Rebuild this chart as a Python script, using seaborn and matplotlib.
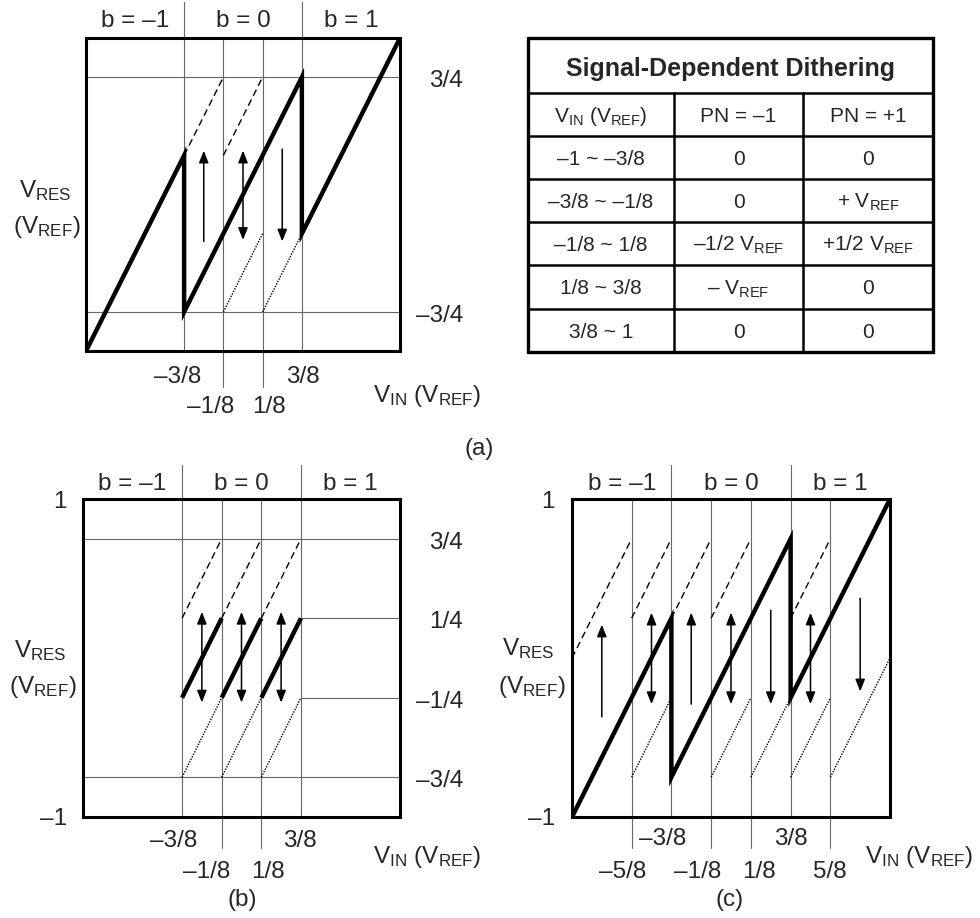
import numpy as np
import pandas as pd
import matplotlib
matplotlib.use("Agg")
import matplotlib.pyplot as plt
import seaborn as sns

sns.set_style("white")
plt.rcParams['font.family'] = ['Liberation Sans', 'DejaVu Sans']
plt.rcParams['mathtext.fontset'] = 'custom'
plt.rcParams['mathtext.rm'] = 'Liberation Sans'
plt.rcParams['mathtext.default'] = 'regular'

# ---- data -------------------------------------------------------------
# (a) residue transfer with signal-dependent dithering
a_curve_x = [-1, -3/8, -3/8, 3/8, 3/8, 1]
a_curve_y = [-1, 1/4, -3/4, 3/4, -1/4, 1]
a_dash_x = [[-3/8, -1/8], [-1/8, 1/8]]
a_dash_y = [[1/4, 3/4], [1/4, 3/4]]
a_dot_x = [[-1/8, 1/8], [1/8, 3/8]]
a_dot_y = [[-3/4, -1/4], [-3/4, -1/4]]
a_arrow_x = [-1/4, 0, 1/4]
a_arrow_lo = [-0.30, -0.29, -0.30]
a_arrow_hi = [0.28, 0.28, 0.29]
a_arrow_dir = ['up', 'both', 'down']

# (b) dithering confined to b = 0 region
b_seg_x = [[-3/8, -1/8], [-1/8, 1/8], [1/8, 3/8]]
b_seg_y = [[-1/4, 1/4], [-1/4, 1/4], [-1/4, 1/4]]
b_dash_x = [[-3/8, -1/8], [-1/8, 1/8], [1/8, 3/8]]
b_dash_y = [[1/4, 3/4], [1/4, 3/4], [1/4, 3/4]]
b_dot_x = [[-3/8, -1/8], [-1/8, 1/8], [1/8, 3/8]]
b_dot_y = [[-3/4, -1/4], [-3/4, -1/4], [-3/4, -1/4]]
b_arrow_x = [-1/4, 0, 1/4]
b_arrow_lo = [-0.28, -0.28, -0.28]
b_arrow_hi = [0.29, 0.29, 0.29]
b_arrow_dir = ['both', 'both', 'both']

# (c) dithering over the full range
c_curve_x = [-1, -3/8, -3/8, 3/8, 3/8, 1]
c_curve_y = [-1, 1/4, -3/4, 3/4, -1/4, 1]
c_dash_x = [[-1, -5/8], [-5/8, -3/8], [-3/8, -1/8], [-1/8, 1/8], [3/8, 5/8]]
c_dash_y = [[0, 3/4], [1/4, 3/4], [1/4, 3/4], [1/4, 3/4], [1/4, 3/4]]
c_dot_x = [[-5/8, -3/8], [-1/8, 1/8], [1/8, 3/8], [3/8, 5/8], [5/8, 1]]
c_dot_y = [[-3/4, -1/4], [-3/4, -1/4], [-3/4, -1/4], [-3/4, -1/4], [-3/4, 0]]
c_arrow_x = [-13/16, -1/2, -1/4, 0, 1/4, 1/2, 13/16]
c_arrow_lo = [-0.37, -0.29, -0.29, -0.29, -0.29, -0.29, -0.21]
c_arrow_hi = [0.21, 0.285, 0.285, 0.285, 0.30, 0.285, 0.375]
c_arrow_dir = ['up', 'both', 'up', 'both', 'down', 'both', 'down']

# table
tbl_title = "Signal-Dependent Dithering"
tbl_header = ["V$_{IN}$ (V$_{REF}$)", "PN = \u20131", "PN = +1"]
vin_ranges = ["\u20131 ~ \u20133/8", "\u20133/8 ~ \u20131/8", "\u20131/8 ~ 1/8", "1/8 ~ 3/8", "3/8 ~ 1"]
pn_minus = ["0", "0", "\u20131/2 V$_{REF}$", "\u2013 V$_{REF}$", "0"]
pn_plus = ["0", "+ V$_{REF}$", "+1/2 V$_{REF}$", "0", "0"]

# ---- figure -----------------------------------------------------------
W, H = 980, 918
fig = plt.figure(figsize=(W / 100, H / 100), dpi=100)
FS = 17.5
GRID = dict(color='#666666', lw=0.8, clip_on=False)


def seg_frame(xs, ys):
    rows = []
    for i, (sx, sy) in enumerate(zip(xs, ys)):
        for x, y in zip(sx, sy):
            rows.append((i, x, y))
    return pd.DataFrame(rows, columns=['seg', 'x', 'y'])


def draw_segs(ax, xs, ys, **kw):
    sns.lineplot(data=seg_frame(xs, ys), x='x', y='y', units='seg',
                 estimator=None, sort=False, ax=ax, color='k', **kw)


def draw_arrows(ax, xs, lo, hi, kinds):
    for x, y0, y1, k in zip(xs, lo, hi, kinds):
        if k == 'up':
            a, b, st = (x, y0), (x, y1), '-|>'
        elif k == 'down':
            a, b, st = (x, y1), (x, y0), '-|>'
        else:
            a, b, st = (x, y0), (x, y1), '<|-|>'
        ax.annotate('', xy=b, xytext=a,
                    arrowprops=dict(arrowstyle=st + ',head_length=0.6,head_width=0.24',
                                    color='k', lw=1.1, shrinkA=0, shrinkB=0,
                                    mutation_scale=12))


def panel(x0, y0, x1, y1):
    ax = fig.add_axes([x0 / W, 1 - y1 / H, (x1 - x0) / W, (y1 - y0) / H])
    return ax


def finish(ax):
    ax.set_xlim(-1, 1)
    ax.set_ylim(-1, 1)
    ax.set_xticks([])
    ax.set_yticks([])
    ax.set_xlabel('')
    ax.set_ylabel('')
    for s in ax.spines.values():
        s.set_linewidth(2.2)
        s.set_color('k')
        s.set_zorder(5)


def label_x(ax, xd, s, dx, dy):
    ax.annotate(s, xy=(xd, 0), xycoords=('data', 'axes fraction'),
                xytext=(dx, dy), textcoords='offset pixels',
                ha='center', va='baseline', fontsize=FS, annotation_clip=False)


def label_right(ax, yd, s):
    ax.annotate(s, xy=(1, yd), xycoords=('axes fraction', 'data'),
                xytext=(63, -10), textcoords='offset pixels',
                ha='right', va='baseline', fontsize=FS, annotation_clip=False)


def b_labels(ax, dy):
    for xc, s in zip([-11/16, 0, 11/16], ["b = \u20131", "b = 0", "b = 1"]):
        ax.annotate(s, xy=(xc, 1), xycoords=('data', 'axes fraction'),
                    xytext=(0, dy), textcoords='offset pixels',
                    ha='center', va='baseline', fontsize=FS, annotation_clip=False)


def ftext(x, y, s, **kw):
    fig.text(x / W, 1 - y / H, s, fontsize=FS, va='baseline', **kw)


# ---------------- (a) ----------------
axa = panel(86, 38, 400, 351)
for xv in [-3/8, 3/8]:
    axa.axvline(xv, 0, 1.115, **GRID)
for xv in [-1/8, 1/8]:
    axa.axvline(xv, -0.115, 1, **GRID)
for yv in [3/4, -3/4]:
    axa.axhline(yv, **GRID)
draw_segs(axa, a_dash_x, a_dash_y, lw=1.0, linestyle=(0, (5, 3)))
draw_segs(axa, a_dot_x, a_dot_y, lw=1.0, linestyle=(0, (1, 1)))
draw_segs(axa, [a_curve_x], [a_curve_y], lw=3.2, solid_joinstyle='miter')
draw_arrows(axa, a_arrow_x, a_arrow_lo, a_arrow_hi, a_arrow_dir)
finish(axa)
b_labels(axa, 11)
label_right(axa, 3/4, "3/4")
label_right(axa, -3/4, "\u20133/4")
label_x(axa, -3/8, "\u20133/8", -7, -32)
label_x(axa, 3/8, "3/8", 1, -32)
label_x(axa, -1/8, "\u20131/8", -13, -62)
label_x(axa, 1/8, "1/8", 6, -62)
ftext(45, 197, "V$_{RES}$", ha='center')
ftext(47, 233, "(V$_{REF}$)", ha='center')
ftext(373, 402, "V$_{IN}$ (V$_{REF}$)", ha='left')
ftext(479, 455, "(a)", ha='center')

# ---------------- table ----------------
axt = fig.add_axes([528 / W, 1 - 352 / H, 405 / W, 314 / H])
axt.set_xlim(528, 933)
axt.set_ylim(352, 38)
axt.axis('off')
row_edges = [38, 93, 136, 179, 222, 265, 309, 352]
col_edges = [528, 674, 803, 933]
for yv in row_edges[1:-1]:
    axt.plot([col_edges[0], col_edges[-1]], [yv, yv], color='k', lw=1.8)
for xv in col_edges[1:-1]:
    axt.plot([xv, xv], [row_edges[1], row_edges[-1]], color='k', lw=1.8)
axt.plot([528, 933, 933, 528, 528], [38, 38, 352, 352, 38], color='k', lw=2.4,
         clip_on=False, solid_joinstyle='miter')
axt.text(730, 76, tbl_title, ha='center', va='baseline', fontsize=18, fontweight='bold')
cols_c = [(col_edges[i] + col_edges[i + 1]) / 2 for i in range(3)]
table_rows = [tbl_header] + [list(r) for r in zip(vin_ranges, pn_minus, pn_plus)]
for i, row in enumerate(table_rows):
    yc = (row_edges[i + 1] + row_edges[i + 2]) / 2
    for xc, s in zip(cols_c, row):
        axt.text(xc, yc + 7.5, s, ha='center', va='baseline', fontsize=15)

# ---------------- (b) ----------------
axb = panel(83, 499, 400, 817)
for xv in [-3/8, 3/8]:
    axb.axvline(xv, 0, 1.107, **GRID)
for xv in [-1/8, 1/8]:
    axb.axvline(xv, -0.0975, 1, **GRID)
for yv in [3/4, -3/4]:
    axb.axhline(yv, **GRID)
for yv in [1/4, -1/4]:
    axb.axhline(yv, 11/16, 1, **GRID)
draw_segs(axb, b_dash_x, b_dash_y, lw=1.0, linestyle=(0, (5, 3)))
draw_segs(axb, b_dot_x, b_dot_y, lw=1.0, linestyle=(0, (1, 1)))
draw_segs(axb, b_seg_x, b_seg_y, lw=3.2, solid_capstyle='butt')
draw_arrows(axb, b_arrow_x, b_arrow_lo, b_arrow_hi, b_arrow_dir)
finish(axb)
b_labels(axb, 9)
for yv, s in zip([3/4, 1/4, -1/4, -3/4], ["3/4", "1/4", "\u20131/4", "\u20133/4"]):
    label_right(axb, yv, s)
axb.annotate("1", xy=(0, 1), xycoords='axes fraction', xytext=(-16, -9),
             textcoords='offset pixels', ha='right', va='baseline', fontsize=FS)
axb.annotate("\u20131", xy=(0, 0), xycoords='axes fraction', xytext=(-16, -8),
             textcoords='offset pixels', ha='right', va='baseline', fontsize=FS)
label_x(axb, -3/8, "\u20133/8", -8, -30)
label_x(axb, 3/8, "3/8", -1, -30)
label_x(axb, -1/8, "\u20131/8", -15, -61)
label_x(axb, 1/8, "1/8", 7, -61)
ftext(40, 657, "V$_{RES}$", ha='center')
ftext(43, 693, "(V$_{REF}$)", ha='center')
ftext(373, 863, "V$_{IN}$ (V$_{REF}$)", ha='left')
ftext(242, 906, "(b)", ha='center')

# ---------------- (c) ----------------
axc = panel(572, 499, 890, 817)
for xv in [-3/8, 3/8]:
    axc.axvline(xv, 0, 1.107, **GRID)
for xv in [-5/8, -1/8, 1/8, 5/8]:
    axc.axvline(xv, -0.0975, 1, **GRID)
draw_segs(axc, c_dash_x, c_dash_y, lw=1.0, linestyle=(0, (5, 3)))
draw_segs(axc, c_dot_x, c_dot_y, lw=1.0, linestyle=(0, (1, 1)))
draw_segs(axc, [c_curve_x], [c_curve_y], lw=3.2, solid_joinstyle='miter')
draw_arrows(axc, c_arrow_x, c_arrow_lo, c_arrow_hi, c_arrow_dir)
finish(axc)
b_labels(axc, 9)
axc.annotate("1", xy=(0, 1), xycoords='axes fraction', xytext=(-17, -9),
             textcoords='offset pixels', ha='right', va='baseline', fontsize=FS)
axc.annotate("\u20131", xy=(0, 0), xycoords='axes fraction', xytext=(-17, -8),
             textcoords='offset pixels', ha='right', va='baseline', fontsize=FS)
label_x(axc, -3/8, "\u20133/8", -9, -28)
label_x(axc, 3/8, "3/8", 0, -28)
label_x(axc, -5/8, "\u20135/8", -9, -61)
label_x(axc, -1/8, "\u20131/8", -14, -61)
label_x(axc, 1/8, "1/8", 8, -61)
label_x(axc, 5/8, "5/8", -1, -61)
ftext(528, 655, "V$_{RES}$", ha='center')
ftext(532, 693, "(V$_{REF}$)", ha='center')
ftext(865, 863, "V$_{IN}$ (V$_{REF}$)", ha='left')
ftext(730, 906, "(c)", ha='center')

fig.savefig("out.png", dpi=100)
